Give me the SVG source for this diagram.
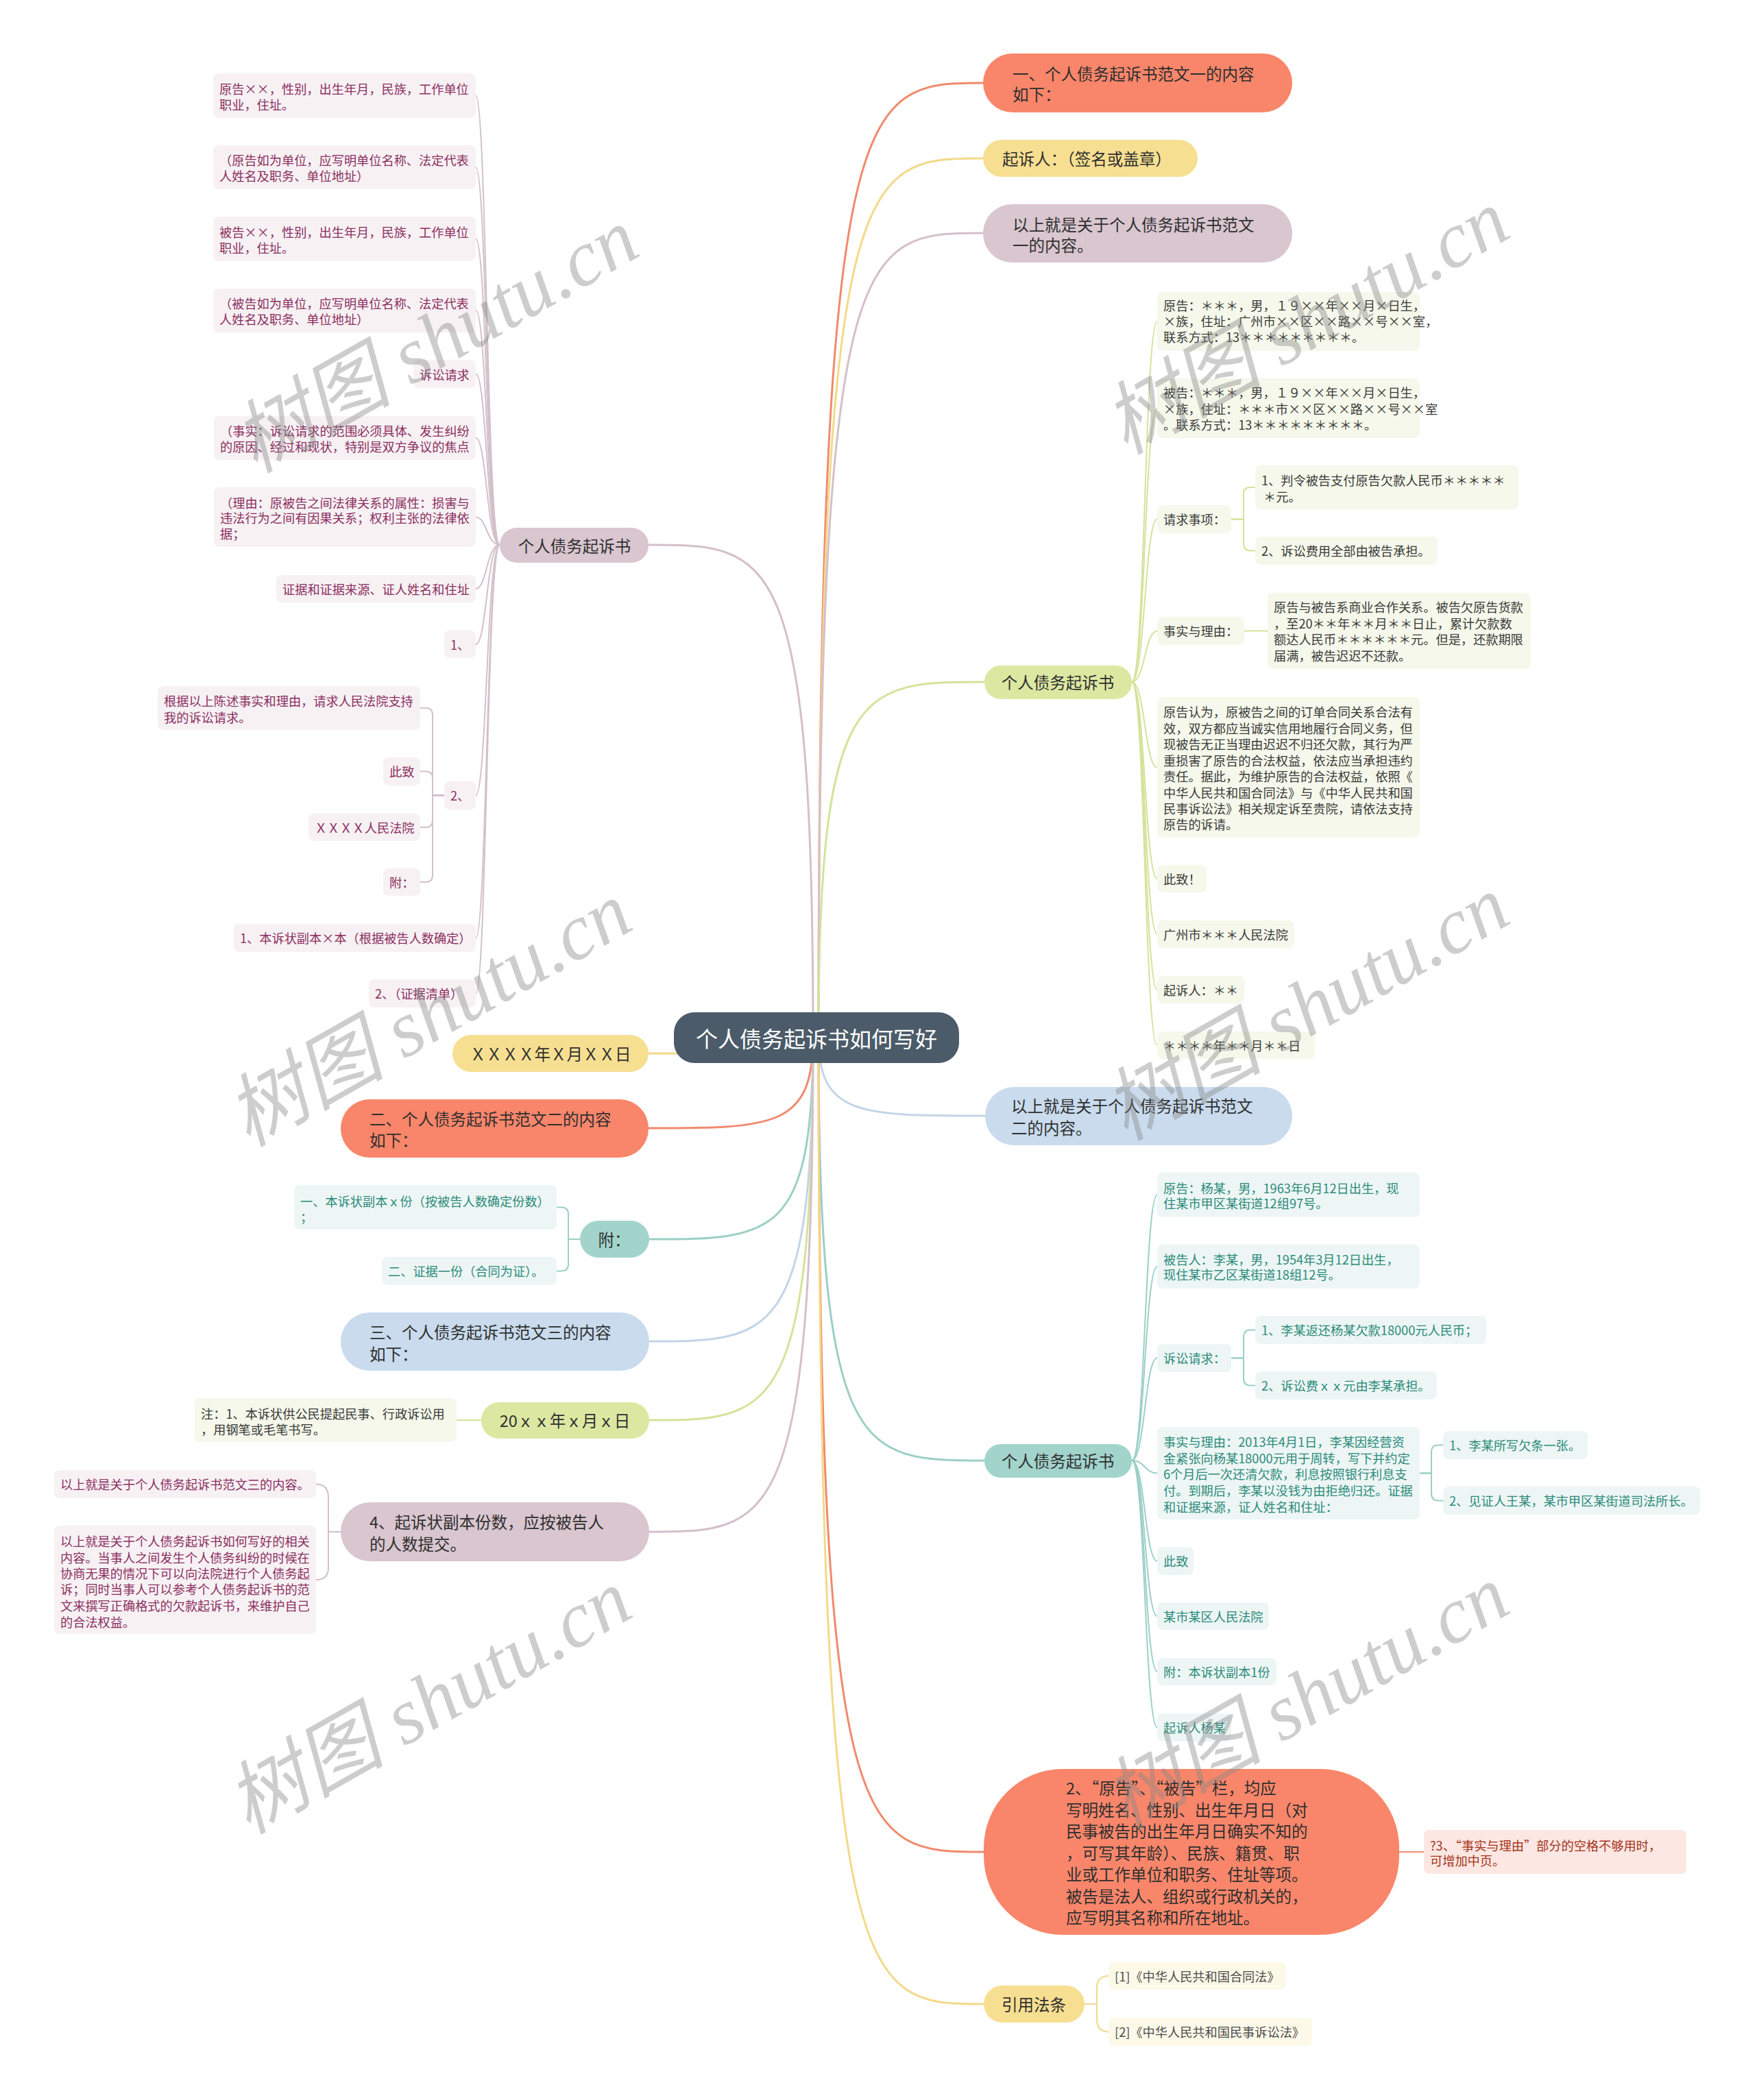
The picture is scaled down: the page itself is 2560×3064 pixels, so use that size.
<svg xmlns="http://www.w3.org/2000/svg" width="2560" height="3064" viewBox="0 0 2560 3064">
<style>
text{font-family:"Noto Sans CJK SC","Noto Sans",sans-serif;dominant-baseline:central}
.s text{font-size:18.2px}
.m text{font-size:23.5px;fill:#2f2f2f}
.pk rect{fill:#f7f1f4}.pk text{fill:#8b2e5e}
.gr rect{fill:#f5f8ea}.gr text{fill:#3a3a3a}
.tl rect{fill:#edf6f4}.tl text{fill:#2b8a7b}
.or rect{fill:#fde7e2}.or text{fill:#a3321b}
.yl rect{fill:#fdf9e8}.yl text{fill:#4d4d4d}
.fO{fill:#f9866a}.fY{fill:#f7df91}.fP{fill:#d9c6cf}.fG{fill:#dce8a2}.fB{fill:#c9dbed}.fT{fill:#a2d4cc}
.mc path{fill:none;stroke-width:3}
.cc path{fill:none;stroke-width:2}
.kO{stroke:#f08a6e}.kY{stroke:#f3d98a}.kP{stroke:#d3c0ca}.kG{stroke:#d3e39a}.kB{stroke:#c3d5e6}.kT{stroke:#9ccfc6}
.wm{font-family:"Liberation Serif","Noto Sans CJK SC",serif;font-style:italic;font-size:116px;fill:#888;fill-opacity:.42;text-anchor:middle;dominant-baseline:auto}
</style>
<rect x="0" y="0" width="2560" height="3064" fill="#ffffff"/>

<g id="connectors">
<g class="mc">
<path class="kO" d="M1194 1514 C1194 121 1254 121 1434 121"/>
<path class="kY" d="M1194 1514 C1194 231 1254 231 1434 231"/>
<path class="kP" d="M1194 1514 C1194 340 1254 340 1434 340"/>
<path class="kG" d="M1194 1514 C1194 995 1255 995 1436 995"/>
<path class="kB" d="M1194 1514 C1194 1628 1255 1628 1437 1628"/>
<path class="kT" d="M1194 1514 C1194 2131 1254 2131 1436 2131"/>
<path class="kO" d="M1194 1514 C1194 2702 1254 2702 1435 2702"/>
<path class="kY" d="M1194 1514 C1194 2924 1254 2924 1435 2924"/>
<path class="kP" d="M1186 1514 C1186 795 1126 795 946 795"/>
<path class="kY" d="M1186 1537 H946"/>
<path class="kO" d="M1186 1514 C1186 1646 1126 1646 946 1646"/>
<path class="kT" d="M1186 1514 C1186 1808 1126 1808 947 1808"/>
<path class="kB" d="M1186 1514 C1186 1957 1126 1957 947 1957"/>
<path class="kG" d="M1186 1514 C1186 2072 1126 2072 947 2072"/>
<path class="kP" d="M1186 1514 C1186 2235 1126 2235 947 2235"/>
</g>
<g class="cc">
<path class="kP" d="M729 795 C710 795 710 139.5 694 139.5"/>
<path class="kP" d="M729 795 C710 795 710 244 694 244"/>
<path class="kP" d="M729 795 C710 795 710 348.5 694 348.5"/>
<path class="kP" d="M729 795 C710 795 710 453 694 453"/>
<path class="kP" d="M729 795 C710 795 710 545.5 694 545.5"/>
<path class="kP" d="M729 795 C710 795 710 639 694 639"/>
<path class="kP" d="M729 795 C710 795 710 754.5 694 754.5"/>
<path class="kP" d="M729 795 C710 795 710 859 694 859"/>
<path class="kP" d="M729 795 C710 795 710 940 694 940"/>
<path class="kP" d="M729 795 C710 795 710 1160.5 694 1160.5"/>
<path class="kP" d="M729 795 C710 795 710 1368.5 694 1368.5"/>
<path class="kP" d="M729 795 C710 795 710 1449.5 694 1449.5"/>
<path class="kP" d="M648 1160.5 H631 V1043 Q631 1033 621 1033 H613"/>
<path class="kP" d="M648 1160.5 H631 V1135.5 Q631 1125.5 621 1125.5 H613"/>
<path class="kP" d="M648 1160.5 H631 V1197 Q631 1207 621 1207 H613"/>
<path class="kP" d="M648 1160.5 H631 V1277 Q631 1287 621 1287 H613"/>
<path class="kG" d="M1651 995 C1670 995 1670 469 1688 469"/>
<path class="kG" d="M1651 995 C1670 995 1670 595.5 1688 595.5"/>
<path class="kG" d="M1651 995 C1670 995 1670 757.5 1688 757.5"/>
<path class="kG" d="M1651 995 C1670 995 1670 920.5 1688 920.5"/>
<path class="kG" d="M1651 995 C1670 995 1670 1119.5 1688 1119.5"/>
<path class="kG" d="M1651 995 C1670 995 1670 1282 1688 1282"/>
<path class="kG" d="M1651 995 C1670 995 1670 1363 1688 1363"/>
<path class="kG" d="M1651 995 C1670 995 1670 1444 1688 1444"/>
<path class="kG" d="M1651 995 C1670 995 1670 1525 1688 1525"/>
<path class="kG" d="M1796 757.5 H1814 V721 Q1814 711 1824 711 H1831"/>
<path class="kG" d="M1796 757.5 H1814 V793.5 Q1814 803.5 1824 803.5 H1831"/>
<path class="kG" d="M1815 920.5 H1849"/>
<path class="kT" d="M1651 2131 C1670 2131 1670 1743.5 1688 1743.5"/>
<path class="kT" d="M1651 2131 C1670 2131 1670 1848 1688 1848"/>
<path class="kT" d="M1651 2131 C1670 2131 1670 1981.5 1688 1981.5"/>
<path class="kT" d="M1651 2131 C1670 2131 1670 2149.5 1688 2149.5"/>
<path class="kT" d="M1651 2131 C1670 2131 1670 2277.5 1688 2277.5"/>
<path class="kT" d="M1651 2131 C1670 2131 1670 2358 1688 2358"/>
<path class="kT" d="M1651 2131 C1670 2131 1670 2439 1688 2439"/>
<path class="kT" d="M1651 2131 C1670 2131 1670 2520.5 1688 2520.5"/>
<path class="kT" d="M1796 1981.5 H1814 V1950.5 Q1814 1940.5 1824 1940.5 H1831"/>
<path class="kT" d="M1796 1981.5 H1814 V2011.5 Q1814 2021.5 1824 2021.5 H1831"/>
<path class="kT" d="M2071 2149.5 H2088 V2118.5 Q2088 2108.5 2098 2108.5 H2105"/>
<path class="kT" d="M2071 2149.5 H2088 V2179.5 Q2088 2189.5 2098 2189.5 H2105"/>
<path class="kT" d="M846 1808 H829 V1771.5 Q829 1761.5 819 1761.5 H812"/>
<path class="kT" d="M846 1808 H829 V1844.5 Q829 1854.5 819 1854.5 H812"/>
<path class="kG" d="M702 2072 H666"/>
<path class="kP" d="M497 2235 H479 V2185 Q479 2165.5 461 2165.5"/>
<path class="kP" d="M497 2235 H479 V2287 Q479 2305 461 2305"/>
<path class="kO" d="M2041 2702 H2077"/>
<path class="kY" d="M1582 2924 H1600 V2901 Q1600 2883 1617 2883"/>
<path class="kY" d="M1582 2924 H1600 V2946 Q1600 2964.5 1617 2964.5"/>
</g>
</g>

<g id="center">
<rect x="983" y="1477" width="416" height="74" rx="30" fill="#4b5b69"/>
<text x="1191" y="1514" text-anchor="middle" font-size="32" fill="#ffffff">个人债务起诉书如何写好</text>
</g>

<g class="m">
<g id="b1"><rect class="fO" x="1434" y="78" width="451" height="86" rx="43"/><text x="1477" y="107">一、个人债务起诉书范文一的内容</text><text x="1477" y="137">如下：</text></g>
<g id="b2"><rect class="fY" x="1434" y="204" width="313" height="54" rx="27"/><text x="1462" y="231">起诉人：（签名或盖章）</text></g>
<g id="b3"><rect class="fP" x="1434" y="298" width="451" height="85" rx="42"/><text x="1477" y="327">以上就是关于个人债务起诉书范文</text><text x="1477" y="357">一的内容。</text></g>
<g id="b4"><rect class="fG" x="1436" y="971" width="215" height="49" rx="24"/><text x="1543" y="995" text-anchor="middle">个人债务起诉书</text></g>
<g id="b5"><rect class="fB" x="1437" y="1586" width="448" height="85" rx="42"/><text x="1475" y="1613">以上就是关于个人债务起诉书范文</text><text x="1475" y="1645">二的内容。</text></g>
<g id="b6"><rect class="fT" x="1436" y="2107" width="215" height="49" rx="24"/><text x="1543" y="2131" text-anchor="middle">个人债务起诉书</text></g>
<g id="b7"><rect class="fO" x="1435" y="2581" width="606" height="242" rx="115"/>
<text x="1555" y="2608">2、“原告”、“被告”栏，均应</text>
<text x="1555" y="2640">写明姓名、性别、出生年月日（对</text>
<text x="1555" y="2671">民事被告的出生年月日确实不知的</text>
<text x="1555" y="2703">，可写其年龄）、民族、籍贯、职</text>
<text x="1555" y="2734">业或工作单位和职务、住址等项。</text>
<text x="1555" y="2766">被告是法人、组织或行政机关的，</text>
<text x="1555" y="2797">应写明其名称和所在地址。</text></g>
<g id="b8"><rect class="fY" x="1435" y="2897" width="147" height="54" rx="27"/><text x="1508" y="2924" text-anchor="middle">引用法条</text></g>
<g id="l1"><rect class="fP" x="729" y="770" width="217" height="51" rx="25"/><text x="838" y="796" text-anchor="middle">个人债务起诉书</text></g>
<g id="l2"><rect class="fY" x="660" y="1510" width="286" height="54" rx="27"/><text x="803" y="1537" text-anchor="middle">ＸＸＸＸ年Ｘ月ＸＸ日</text></g>
<g id="l3"><rect class="fO" x="497" y="1604" width="449" height="85" rx="42"/><text x="539" y="1632">二、个人债务起诉书范文二的内容</text><text x="539" y="1663">如下：</text></g>
<g id="l4"><rect class="fT" x="846" y="1781" width="101" height="54" rx="27"/><text x="896" y="1808" text-anchor="middle">附：</text></g>
<g id="l5"><rect class="fB" x="497" y="1915" width="450" height="85" rx="42"/><text x="539" y="1943">三、个人债务起诉书范文三的内容</text><text x="539" y="1975">如下：</text></g>
<g id="l6"><rect class="fG" x="702" y="2046" width="245" height="53" rx="26"/><text x="824" y="2072" text-anchor="middle">20ｘｘ年ｘ月ｘ日</text></g>
<g id="l7"><rect class="fP" x="497" y="2192" width="450" height="86" rx="43"/><text x="539" y="2220">4、起诉状副本份数，应按被告人</text><text x="539" y="2252">的人数提交。</text></g>
</g>

<g class="s pk">
<g id="l1c1"><rect x="311" y="107" width="383" height="65" rx="8"/><text x="320" y="129">原告××，性别，出生年月，民族，工作单位</text><text x="320" y="152">职业，住址。</text></g>
<g id="l1c2"><rect x="311" y="212" width="383" height="64" rx="8"/><text x="320" y="233">（原告如为单位，应写明单位名称、法定代表</text><text x="320" y="256">人姓名及职务、单位地址）</text></g>
<g id="l1c3"><rect x="311" y="316" width="383" height="65" rx="8"/><text x="320" y="338">被告××，性别，出生年月，民族，工作单位</text><text x="320" y="361">职业，住址。</text></g>
<g id="l1c4"><rect x="311" y="421" width="383" height="64" rx="8"/><text x="320" y="442">（被告如为单位，应写明单位名称、法定代表</text><text x="320" y="465">人姓名及职务、单位地址）</text></g>
<g id="l1c5"><rect x="603" y="525" width="91" height="41" rx="8"/><text x="612" y="546">诉讼请求</text></g>
<g id="l1c6"><rect x="312" y="607" width="382" height="64" rx="8"/><text x="321" y="628">（事实：诉讼请求的范围必须具体、发生纠纷</text><text x="321" y="651">的原因、经过和现状，特别是双方争议的焦点</text></g>
<g id="l1c7"><rect x="312" y="711" width="382" height="87" rx="8"/><text x="321" y="733">（理由：原被告之间法律关系的属性：损害与</text><text x="321" y="755">违法行为之间有因果关系；权利主张的法律依</text><text x="321" y="778">据；</text></g>
<g id="l1c8"><rect x="403" y="839" width="291" height="40" rx="8"/><text x="412" y="859">证据和证据来源、证人姓名和住址</text></g>
<g id="l1c9"><rect x="648" y="920" width="46" height="40" rx="8"/><text x="657" y="940">1、</text></g>
<g id="l1c10"><rect x="648" y="1140" width="46" height="41" rx="8"/><text x="657" y="1160">2、</text></g>
<g id="l1c10a"><rect x="230" y="1001" width="383" height="64" rx="8"/><text x="239" y="1022">根据以上陈述事实和理由，请求人民法院支持</text><text x="239" y="1046">我的诉讼请求。</text></g>
<g id="l1c10b"><rect x="559" y="1105" width="54" height="41" rx="8"/><text x="568" y="1125">此致</text></g>
<g id="l1c10c"><rect x="450" y="1187" width="163" height="40" rx="8"/><text x="459" y="1207">ＸＸＸＸ人民法院</text></g>
<g id="l1c10d"><rect x="559" y="1267" width="54" height="40" rx="8"/><text x="568" y="1287">附：</text></g>
<g id="l1c11"><rect x="341" y="1348" width="353" height="41" rx="8"/><text x="350" y="1368">1、本诉状副本×本（根据被告人数确定）</text></g>
<g id="l1c12"><rect x="538" y="1429" width="156" height="41" rx="8"/><text x="547" y="1449">2、（证据清单）</text></g>
</g>

<g class="s gr">
<g id="r4c1"><rect x="1688" y="426" width="383" height="86" rx="8"/><text x="1697" y="445">原告：＊＊＊，男，１９××年××月×日生，</text><text x="1697" y="468">×族，住址：广州市××区××路××号××室，</text><text x="1697" y="491">联系方式：13＊＊＊＊＊＊＊＊＊。</text></g>
<g id="r4c2"><rect x="1688" y="552" width="383" height="87" rx="8"/><text x="1697" y="572">被告：＊＊＊，男，１９××年××月×日生，</text><text x="1697" y="596">×族，住址：＊＊＊市××区××路××号××室</text><text x="1697" y="619">。联系方式：13＊＊＊＊＊＊＊＊＊。</text></g>
<g id="r4c3"><rect x="1688" y="737" width="108" height="41" rx="8"/><text x="1697" y="757">请求事项：</text></g>
<g id="r4c3a"><rect x="1831" y="679" width="384" height="64" rx="8"/><text x="1840" y="700">1、判令被告支付原告欠款人民币＊＊＊＊＊</text><text x="1843" y="724">＊元。</text></g>
<g id="r4c3b"><rect x="1831" y="783" width="266" height="41" rx="8"/><text x="1840" y="803">2、诉讼费用全部由被告承担。</text></g>
<g id="r4c4"><rect x="1688" y="900" width="127" height="41" rx="8"/><text x="1697" y="920">事实与理由：</text></g>
<g id="r4c4a"><rect x="1849" y="865" width="384" height="111" rx="8"/><text x="1858" y="885">原告与被告系商业合作关系。被告欠原告货款</text><text x="1858" y="909">，至20＊＊年＊＊月＊＊日止，累计欠款数</text><text x="1858" y="932">额达人民币＊＊＊＊＊＊元。但是，还款期限</text><text x="1858" y="956">届满，被告迟迟不还款。</text></g>
<g id="r4c5"><rect x="1688" y="1017" width="383" height="205" rx="8"/>
<text x="1697" y="1038">原告认为，原被告之间的订单合同关系合法有</text>
<text x="1697" y="1062">效，双方都应当诚实信用地履行合同义务，但</text>
<text x="1697" y="1085">现被告无正当理由迟迟不归还欠款，其行为严</text>
<text x="1697" y="1109">重损害了原告的合法权益，依法应当承担违约</text>
<text x="1697" y="1132">责任。据此，为维护原告的合法权益，依照《</text>
<text x="1697" y="1156">中华人民共和国合同法》与《中华人民共和国</text>
<text x="1697" y="1179">民事诉讼法》相关规定诉至贵院，请依法支持</text>
<text x="1697" y="1202">原告的诉请。</text></g>
<g id="r4c6"><rect x="1688" y="1262" width="72" height="40" rx="8"/><text x="1697" y="1282">此致！</text></g>
<g id="r4c7"><rect x="1688" y="1343" width="200" height="40" rx="8"/><text x="1697" y="1363">广州市＊＊＊人民法院</text></g>
<g id="r4c8"><rect x="1688" y="1424" width="127" height="40" rx="8"/><text x="1697" y="1444">起诉人：＊＊</text></g>
<g id="r4c9"><rect x="1688" y="1505" width="230" height="40" rx="8"/><text x="1697" y="1525">＊＊＊＊年＊＊月＊＊日</text></g>
</g>

<g class="s tl">
<g id="r6c1"><rect x="1688" y="1711" width="383" height="65" rx="8"/><text x="1697" y="1733">原告：杨某，男，1963年6月12日出生，现</text><text x="1697" y="1755">住某市甲区某街道12组97号。</text></g>
<g id="r6c2"><rect x="1688" y="1816" width="383" height="64" rx="8"/><text x="1697" y="1837">被告人：李某，男，1954年3月12日出生，</text><text x="1697" y="1859">现住某市乙区某街道18组12号。</text></g>
<g id="r6c3"><rect x="1688" y="1961" width="108" height="41" rx="8"/><text x="1697" y="1981">诉讼请求：</text></g>
<g id="r6c3a"><rect x="1831" y="1920" width="337" height="41" rx="8"/><text x="1840" y="1940">1、李某返还杨某欠款18000元人民币；</text></g>
<g id="r6c3b"><rect x="1831" y="2001" width="265" height="41" rx="8"/><text x="1840" y="2021">2、诉讼费ｘｘ元由李某承担。</text></g>
<g id="r6c4"><rect x="1688" y="2082" width="383" height="135" rx="8"/>
<text x="1697" y="2103">事实与理由：2013年4月1日，李某因经营资</text>
<text x="1697" y="2127">金紧张向杨某18000元用于周转，写下并约定</text>
<text x="1697" y="2150">6个月后一次还清欠款，利息按照银行利息支</text>
<text x="1697" y="2174">付。到期后，李某以没钱为由拒绝归还。证据</text>
<text x="1697" y="2198">和证据来源，证人姓名和住址：</text></g>
<g id="r6c4a"><rect x="2105" y="2088" width="211" height="41" rx="8"/><text x="2114" y="2108">1、李某所写欠条一张。</text></g>
<g id="r6c4b"><rect x="2105" y="2169" width="375" height="41" rx="8"/><text x="2114" y="2189">2、见证人王某，某市甲区某街道司法所长。</text></g>
<g id="r6c5"><rect x="1688" y="2257" width="53" height="41" rx="8"/><text x="1697" y="2277">此致</text></g>
<g id="r6c6"><rect x="1688" y="2338" width="163" height="40" rx="8"/><text x="1697" y="2358">某市某区人民法院</text></g>
<g id="r6c7"><rect x="1688" y="2419" width="174" height="40" rx="8"/><text x="1697" y="2439">附：本诉状副本1份</text></g>
<g id="r6c8"><rect x="1688" y="2500" width="108" height="41" rx="8"/><text x="1697" y="2520">起诉人杨某</text></g>
</g>

<g class="s tl">
<g id="l4c1"><rect x="429" y="1729" width="383" height="65" rx="8"/><text x="438" y="1752">一、本诉状副本ｘ份（按被告人数确定份数）</text><text x="438" y="1775">；</text></g>
<g id="l4c2"><rect x="557" y="1834" width="255" height="41" rx="8"/><text x="566" y="1854">二、证据一份（合同为证）。</text></g>
</g>

<g class="s gr">
<g id="l6c1"><rect x="284" y="2040" width="382" height="64" rx="8"/><text x="293" y="2062">注：1、本诉状供公民提起民事、行政诉讼用</text><text x="293" y="2085">，用钢笔或毛笔书写。</text></g>
</g>

<g class="s pk">
<g id="l7c1"><rect x="79" y="2145" width="382" height="41" rx="8"/><text x="88" y="2165">以上就是关于个人债务起诉书范文三的内容。</text></g>
<g id="l7c2"><rect x="79" y="2226" width="382" height="158" rx="8"/>
<text x="88" y="2248">以上就是关于个人债务起诉书如何写好的相关</text>
<text x="88" y="2272">内容。当事人之间发生个人债务纠纷的时候在</text>
<text x="88" y="2295">协商无果的情况下可以向法院进行个人债务起</text>
<text x="88" y="2318">诉；同时当事人可以参考个人债务起诉书的范</text>
<text x="88" y="2342">文来撰写正确格式的欠款起诉书，来维护自己</text>
<text x="88" y="2366">的合法权益。</text></g>
</g>

<g class="s or">
<g id="b7c1"><rect x="2077" y="2670" width="383" height="64" rx="8"/><text x="2086" y="2692">?3、“事实与理由”部分的空格不够用时，</text><text x="2086" y="2714">可增加中页。</text></g>
</g>

<g class="s yl">
<g id="b8c1"><rect x="1617" y="2863" width="259" height="40" rx="8"/><text x="1626" y="2883">[1]《中华人民共和国合同法》</text></g>
<g id="b8c2"><rect x="1617" y="2944" width="297" height="41" rx="8"/><text x="1626" y="2964">[2]《中华人民共和国民事诉讼法》</text></g>
</g>

<g id="watermarks">
<text class="wm" transform="translate(655 531) rotate(-29.5)">树图 shutu.cn</text>
<text class="wm" transform="translate(1925 504) rotate(-29.5)">树图 shutu.cn</text>
<text class="wm" transform="translate(645 1514) rotate(-29.5)">树图 shutu.cn</text>
<text class="wm" transform="translate(1925 1505) rotate(-29.5)">树图 shutu.cn</text>
<text class="wm" transform="translate(645 2517) rotate(-29.5)">树图 shutu.cn</text>
<text class="wm" transform="translate(1925 2511) rotate(-29.5)">树图 shutu.cn</text>
</g>
</svg>
